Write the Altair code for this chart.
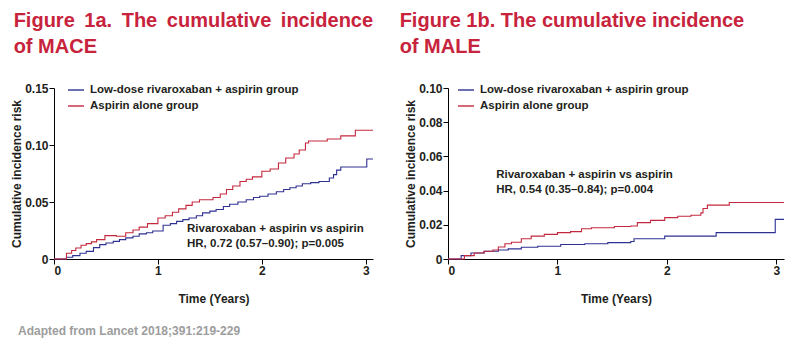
import altair as alt
import pandas as pd

FONT = "Liberation Sans"
TITLE_RED = "#c8233c"
TEXT = "#231f20"
GROUPS = ["Low-dose rivaroxaban + aspirin group", "Aspirin alone group"]
LINE_COLORS = ["#2e3192", "#c4283e"]

# ---- Figure 1a: MACE ----
mace_combo_t = [0, 0.04, 0.12, 0.18, 0.25, 0.31, 0.38, 0.44, 0.50, 0.57, 0.63, 0.69, 0.76, 0.82, 0.89,
                0.95, 1.05, 1.12, 1.18, 1.24, 1.30, 1.37, 1.43, 1.50, 1.56, 1.63, 1.69, 1.77, 1.85,
                1.92, 1.98, 2.06, 2.14, 2.21, 2.27, 2.33, 2.39, 2.47, 2.55, 2.65, 2.69, 2.72, 2.76,
                3.01, 3.07]
mace_combo_y = [0, 0, 0.0015, 0.003, 0.005, 0.0067, 0.010, 0.0126, 0.014, 0.0155, 0.017, 0.0185, 0.020,
                0.022, 0.023, 0.0245, 0.0296, 0.031, 0.033, 0.0345, 0.036, 0.038, 0.0405, 0.042, 0.0434,
                0.046, 0.048, 0.050, 0.052, 0.054, 0.055, 0.057, 0.059, 0.061, 0.0625, 0.064, 0.066,
                0.067, 0.068, 0.071, 0.074, 0.078, 0.0807, 0.0877, 0.0877]

mace_asp_t = [0, 0.05, 0.12, 0.17, 0.21, 0.26, 0.31, 0.36, 0.41, 0.49, 0.60, 0.69, 0.76, 0.82, 0.90,
              1.00, 1.07, 1.14, 1.20, 1.27, 1.33, 1.40, 1.53, 1.60, 1.66, 1.72, 1.79, 1.85, 1.91,
              2.00, 2.08, 2.16, 2.23, 2.31, 2.36, 2.42, 2.45, 2.63, 2.76, 2.90, 3.07]
mace_asp_y = [0, 0, 0.005, 0.0075, 0.0097, 0.012, 0.0135, 0.015, 0.017, 0.0205, 0.020, 0.023, 0.0255,
              0.028, 0.031, 0.036, 0.038, 0.041, 0.044, 0.047, 0.050, 0.052, 0.054, 0.057, 0.061,
              0.064, 0.068, 0.070, 0.072, 0.077, 0.079, 0.0842, 0.0886, 0.0921, 0.0956, 0.1018,
              0.1035, 0.1053, 0.108, 0.113, 0.113]

# ---- Figure 1b: MALE ----
male_combo_t = [0, 0.03, 0.12, 0.21, 0.33, 0.46, 0.55, 0.67, 0.82, 1.03, 1.25, 1.46, 1.67, 1.70,
                1.98, 2.45, 2.99, 3.07]
male_combo_y = [0, 0, 0.002, 0.0035, 0.0045, 0.0053, 0.0059, 0.0069, 0.0075, 0.0085, 0.0089, 0.0096,
                0.0102, 0.0118, 0.0134, 0.0154, 0.0232, 0.0232]

male_asp_t = [0, 0.03, 0.15, 0.24, 0.33, 0.41, 0.46, 0.52, 0.58, 0.67, 0.76, 0.88, 1.00, 1.12, 1.22,
              1.31, 1.52, 1.67, 1.73, 1.85, 1.98, 2.10, 2.22, 2.31, 2.33, 2.37, 2.57, 3.07]
male_asp_y = [0, 0, 0.002, 0.0035, 0.0045, 0.0053, 0.007, 0.0089, 0.0098, 0.0118, 0.0134, 0.0144,
              0.0154, 0.016, 0.0177, 0.0183, 0.019, 0.0193, 0.0213, 0.0226, 0.0242, 0.025, 0.0256,
              0.027, 0.0295, 0.0315, 0.033, 0.033]

titles = [["Figure\u2009 1a.\u2009 The\u2009 cumulative\u2009 incidence", "of MACE"],
          ["Figure 1b. The cumulative incidence", "of MALE"]]
hr_texts = [["Rivaroxaban + aspirin vs aspirin", "HR, 0.72 (0.57\u20130.90); p=0.005"],
            ["Rivaroxaban + aspirin vs aspirin", "HR, 0.54 (0.35\u20130.84); p=0.004"]]
hr_pos_t = [[1.28, 1.28], [0.44, 0.44]]
hr_pos_y = [[0.0263, 0.0132], [0.0494, 0.0406]]

y_max = [0.15, 0.10]
y_ticks = [[0, 0.05, 0.10, 0.15], [0, 0.02, 0.04, 0.06, 0.08, 0.10]]
x_ticks = [0, 1, 2, 3]
footnote = "Adapted from Lancet 2018;391:219-229"


def panel(i, tc, yc, ta, ya, width, title_dx):
    df = pd.DataFrame({
        "t": tc + ta,
        "risk": yc + ya,
        "group": [GROUPS[0]] * len(tc) + [GROUPS[1]] * len(ta),
    })
    ann = pd.DataFrame({"t": hr_pos_t[i], "risk": hr_pos_y[i], "text": hr_texts[i]})

    x = alt.X("t:Q", scale=alt.Scale(domain=[0, 3.07], nice=False, zero=False),
              axis=alt.Axis(values=x_ticks, tickCount=10, format="d", title="Time (Years)",
                            titlePadding=17))
    y = alt.Y("risk:Q", scale=alt.Scale(domain=[0, y_max[i]], nice=False),
              axis=alt.Axis(values=y_ticks[i], tickCount=20, title="Cumulative incidence risk",
                            labelExpr="datum.value == 0 ? '0' : format(datum.value, '.2f')",
                            labelOverlap=False, titlePadding=1))
    color = alt.Color("group:N", scale=alt.Scale(domain=GROUPS, range=LINE_COLORS),
                      legend=alt.Legend(orient="none", legendX=13 if i == 0 else 9, legendY=-7,
                                        title=None, symbolType="stroke", symbolSize=256,
                                        symbolStrokeWidth=1.4, labelFontSize=11.5, labelFont=FONT,
                                        labelFontWeight="bold", labelColor=TEXT, labelOffset=5,
                                        rowPadding=1, padding=0, labelLimit=400))
    lines = alt.Chart(df).mark_line(interpolate="step-after", strokeWidth=1.1).encode(
        x=x, y=y, color=color)
    texts = alt.Chart(ann).mark_text(align="left", baseline="middle", font=FONT, fontSize=11.5,
                                     fontWeight="bold", color=TEXT).encode(
        x="t:Q", y="risk:Q", text="text:N")
    layers = [lines, texts]
    if i == 0:
        foot = alt.Chart(pd.DataFrame({"text": [footnote]})).mark_text(
            align="left", baseline="middle", font=FONT, fontSize=12, fontWeight="bold",
            color="#9d9d9d").encode(x=alt.value(-36), y=alt.value(243), text="text:N")
        layers.append(foot)
    return alt.layer(*layers).properties(
        width=width, height=171,
        title=alt.TitleParams(titles[i], anchor="start", frame="bounds", fontSize=20, font=FONT,
                              fontWeight="bold", color=TITLE_RED, lineHeight=26, offset=24,
                              dx=title_dx),
    )


left = panel(0, mace_combo_t, mace_combo_y, mace_asp_t, mace_asp_y, 319, 3)
right = panel(1, male_combo_t, male_combo_y, male_asp_t, male_asp_y, 336, -5)

chart = alt.hconcat(left, right, spacing=23).resolve_scale(color="independent").configure(
    padding={"left": 10, "top": 11, "right": 5, "bottom": 5},
).configure_view(stroke=None).configure_axis(
    grid=False, domainColor="#000", domainWidth=1, tickColor="#000", tickSize=5, tickWidth=1,
    labelFont=FONT, labelFontSize=12, labelFontWeight="bold", labelColor=TEXT, labelPadding=1,
    titleFont=FONT, titleFontSize=12, titleFontWeight="bold", titleColor=TEXT,
).configure_axisX(labelPadding=1)

chart.save("out.html", embed_options={"renderer": "svg", "actions": False})
